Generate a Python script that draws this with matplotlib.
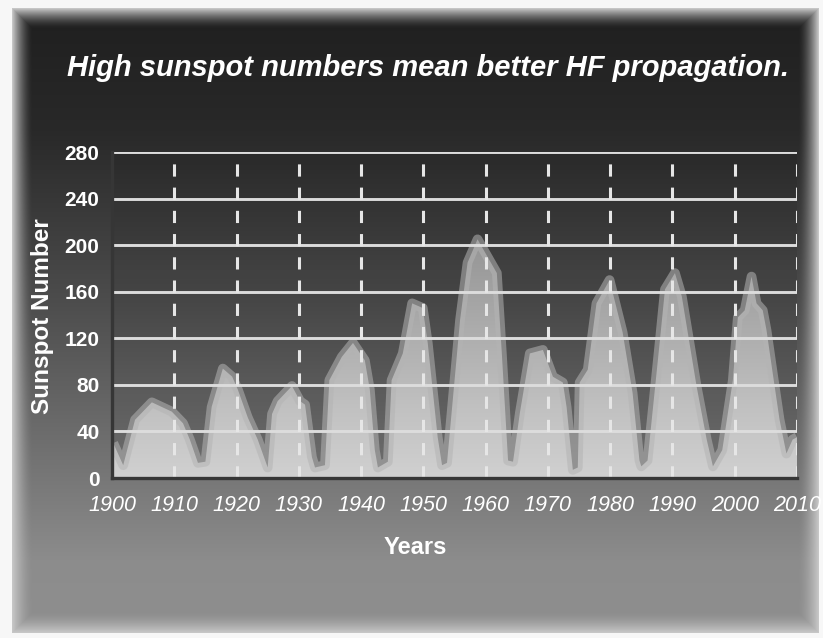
import numpy as np
import matplotlib
matplotlib.use("Agg")
import matplotlib.pyplot as plt
from matplotlib.patches import Polygon

# sunspot curve (year, sunspot number)
years = [1900.2, 1901.8, 1903.7, 1906.4, 1909.6, 1911.4, 1912.5, 1913.8, 1915.0,
         1916.0, 1917.8, 1919.3, 1920.2, 1921.8, 1923.4, 1925.0, 1925.7, 1926.6,
         1928.9, 1930.2, 1931.0, 1932.1, 1932.6, 1934.2, 1934.9, 1936.9, 1938.7,
         1940.6, 1941.4, 1942.2, 1942.7, 1944.3, 1944.9, 1946.7, 1948.2, 1949.9,
         1950.7, 1952.3, 1953.0, 1953.8, 1955.9, 1957.1, 1958.7, 1961.8, 1962.6,
         1963.6, 1964.4, 1965.5, 1967.1, 1969.2, 1970.8, 1972.4, 1973.0, 1974.0,
         1974.8, 1975.1, 1976.4, 1977.8, 1979.9, 1982.0, 1983.6, 1984.7, 1985.0,
         1986.0, 1988.0, 1988.8, 1990.4, 1991.5, 1993.9, 1995.5, 1996.5, 1998.0,
         1999.7, 2000.5, 2001.6, 2002.7, 2003.5, 2004.5, 2005.1, 2006.1, 2007.2,
         2008.3, 2009.3, 2010.0]
sunspots = [30, 11, 50, 65, 57, 47, 33, 13, 14,
            61, 94, 87, 76, 52, 33, 9, 55, 66,
            79, 66, 63, 18, 9, 11, 84, 104, 116,
            101, 76, 24, 9, 14, 84, 107, 150, 146,
            116, 35, 11, 13, 136, 185, 205, 176, 107,
            15, 14, 56, 107, 110, 87, 82, 61, 7,
            9, 82, 93, 150, 170, 125, 73, 15, 10,
            15, 119, 162, 176, 156, 78, 33, 10, 24,
            84, 138, 144, 173, 150, 144, 127, 90, 50,
            21, 33, 35]

decades = list(range(1900, 2011, 10))
y_ticks = [0, 40, 80, 120, 160, 200, 240, 280]

W, H = 823, 638
fig = plt.figure(figsize=(W / 100, H / 100), dpi=100)

# background: dark-to-grey vertical gradient with a light bevelled edge
yy, xx = np.mgrid[0:H, 0:W]
base = np.interp(yy, [0, 130, 300, 480, 560, H], [0.12, 0.16, 0.30, 0.47, 0.55, 0.56])
x0, x1, y0, y1 = 12, 818, 8, 632
d = np.minimum.reduce([xx - x0, x1 - xx, yy - y0, y1 - yy]).astype(float)
w = np.clip(1 - d / 20.0, 0, 1) ** 1.6
bg = base * (1 - w) + 0.78 * w
bg[d < 0] = 0.97
bg_ax = fig.add_axes([0, 0, 1, 1], zorder=-1)
bg_ax.imshow(np.dstack([bg] * 3), aspect="auto", interpolation="bilinear")
bg_ax.axis("off")

ax = fig.add_axes([112 / W, 1 - 478 / H, (797 - 112) / W, (478 - 152) / H])
ax.set_facecolor((0, 0, 0, 0.07))
ax.set_xlim(1900, 2010)
ax.set_ylim(0, 280)

# area with a vertical grey gradient, clipped to the curve
verts = [(years[0], 0)] + list(zip(years, sunspots)) + [(years[-1], 0)]
poly = Polygon(verts, closed=True, facecolor="none", edgecolor="none")
ax.add_patch(poly)
g = np.interp(np.linspace(0, 280, 200), [0, 60, 210, 280], [0.84, 0.78, 0.60, 0.56])
grad = np.dstack([g[:, None]] * 3)
im = ax.imshow(grad, extent=[1900, 2010, 0, 280], origin="lower",
               aspect="auto", zorder=2, alpha=0.95)
im.set_clip_path(poly)
ax.plot(years, sunspots, color="#b4b4b4", lw=7, alpha=0.55, zorder=3,
        solid_joinstyle="round", solid_capstyle="butt")

# grid
for v in y_ticks[1:]:
    ax.axhline(v, color="#dcdcdc", lw=2.1, zorder=4)
for yr in decades[1:]:
    ax.axvline(yr, color="#e6e6e6", lw=2.2, dashes=(4, 3.6), zorder=4,
               ymax=0.985)

for s in ["top", "right"]:
    ax.spines[s].set_visible(False)
for s in ["left", "bottom"]:
    ax.spines[s].set_color("#363636")
    ax.spines[s].set_linewidth(2.4)
    ax.spines[s].set_zorder(5)

ax.set_yticks(y_ticks)
ax.set_yticklabels([str(v) for v in y_ticks], fontfamily="Liberation Sans",
                   fontweight="bold", fontsize=15, color="white")
ax.set_xticks(decades)
ax.set_xticklabels([str(v) for v in decades], fontfamily="Liberation Sans",
                   fontstyle="italic", fontsize=15.5, color="white")
ax.tick_params(axis="y", length=0, pad=9)
ax.tick_params(axis="x", length=0, pad=12)

fig.text(428 / W, 1 - 68 / H, "High sunspot numbers mean better HF propagation.",
         ha="center", va="center", color="white", fontsize=21,
         fontfamily="Liberation Sans", fontweight="bold", fontstyle="italic")
fig.text(43 / W, 1 - 316 / H, "Sunspot Number", rotation=90, ha="center",
         va="center", color="white", fontsize=17.5,
         fontfamily="Liberation Sans", fontweight="bold")
fig.text(415 / W, 1 - 548 / H, "Years", ha="center", va="center",
         color="white", fontsize=17, fontfamily="Liberation Sans",
         fontweight="bold")

fig.savefig("out.png", dpi=100)
